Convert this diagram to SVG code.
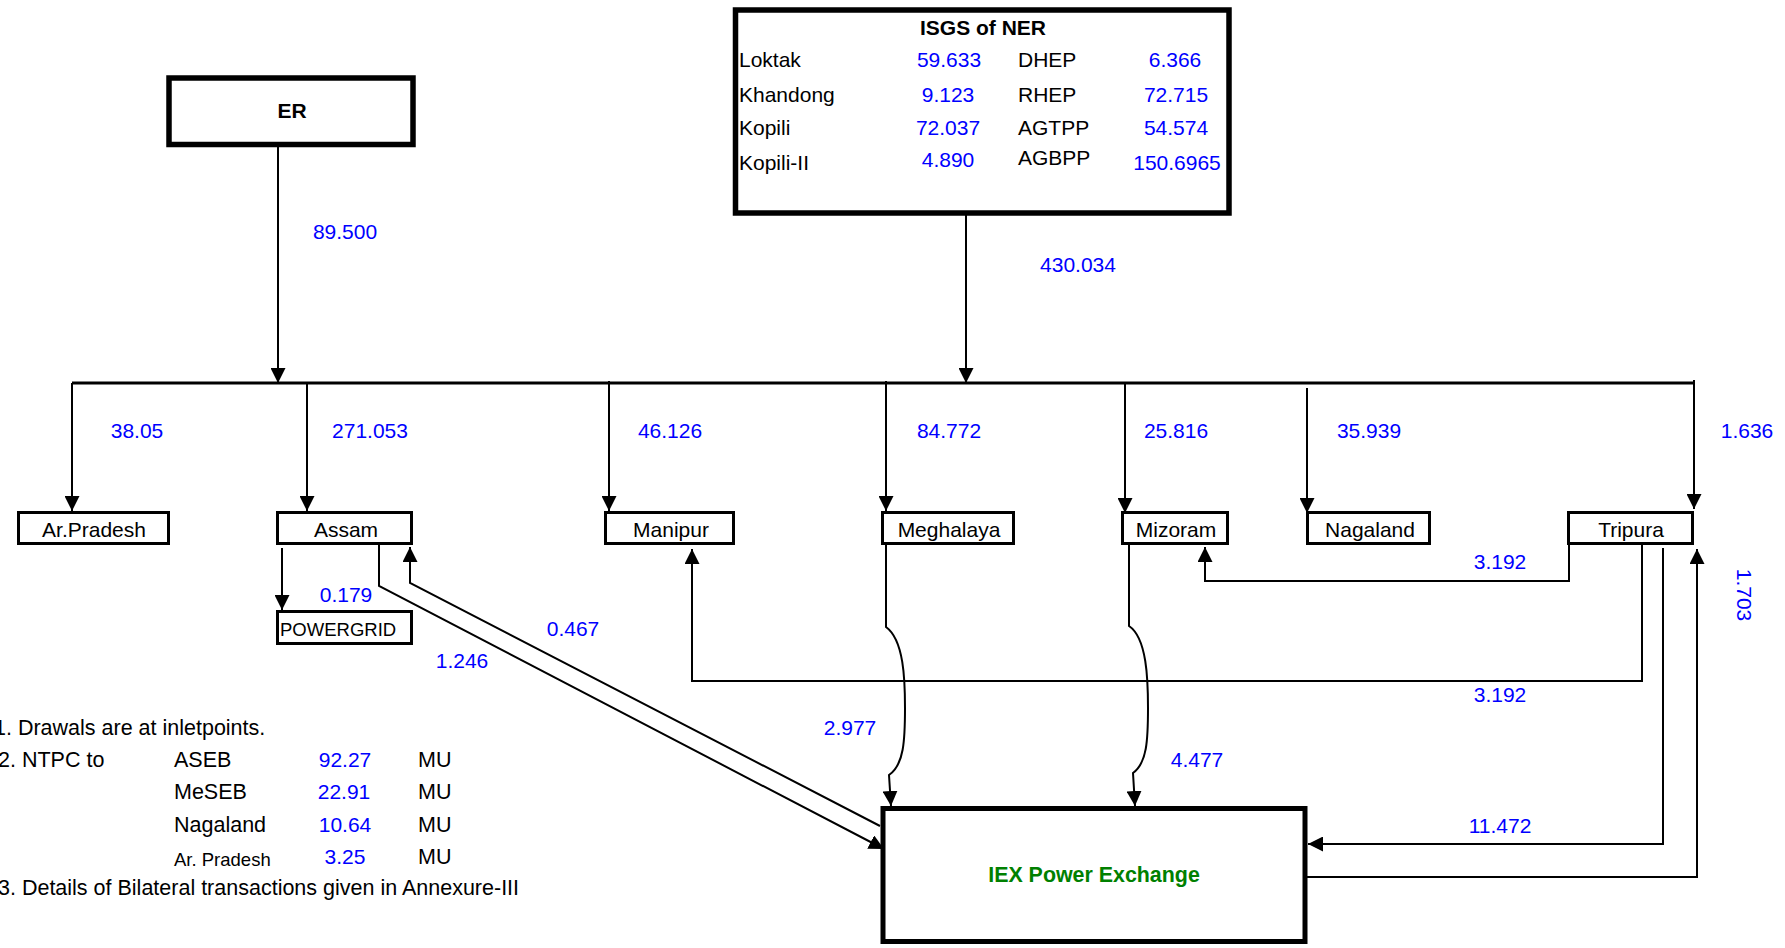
<svg xmlns="http://www.w3.org/2000/svg" width="1785" height="948" viewBox="0 0 1785 948">
<defs>
<style>
text{font-family:"Liberation Sans",Arial,sans-serif;font-size:21px;fill:#000}
.v{fill:#0000ff;text-anchor:middle}
.c{text-anchor:middle}
.b{font-weight:bold}
.n{font-size:21.5px}
.box{fill:#fff;stroke:#000;stroke-width:3}
.big{fill:#fff;stroke:#000;stroke-width:5.5}
.ar{fill:none;stroke:#000;stroke-width:2;marker-end:url(#ah)}
.bus{fill:none;stroke:#000;stroke-width:3}
</style>
<marker id="ah" markerUnits="userSpaceOnUse" markerWidth="15" markerHeight="15" viewBox="0 0 15 15" refX="15" refY="7.5" orient="auto">
<path d="M0,0 L15,7.5 L0,15 z" fill="#000"/>
</marker>
</defs>
<rect width="1785" height="948" fill="#fff"/>

<g id="connectors">
<path class="ar" d="M278,147 V383"/>
<path class="ar" d="M966,213 V383"/>
<path class="bus" d="M72,383 H1694"/>
<path class="ar" d="M72,383 V511"/>
<path class="ar" d="M307,383 V511"/>
<path class="ar" d="M609,381 V511"/>
<path class="ar" d="M886,381 V511"/>
<path class="ar" d="M1125,383 V513"/>
<path class="ar" d="M1307,388 V513"/>
<path class="ar" d="M1694,380 V509"/>
<path class="ar" d="M282,548 V610"/>
<path class="ar" d="M379,545 V586 L884,849"/>
<path class="ar" d="M880,826 L410,583 V547"/>
<path class="ar" d="M886,545 V627 C904,640 905,680 905,708 C905,740 904,765 889,775 L891,806"/>
<path class="ar" d="M1129,545 V626 C1147,638 1148,680 1148,708 C1148,740 1147,763 1133,773 L1135,806"/>
<path class="ar" d="M1569,545 V581 H1205 V547"/>
<path class="ar" d="M1642,545 V681 H692 V549"/>
<path class="ar" d="M1663,548 V844 H1308"/>
<path class="ar" d="M1306,877 H1697 V549"/>
</g>

<g id="er">
<rect class="big" x="169" y="78" width="244" height="66.5"/>
<text class="c b" x="292" y="118">ER</text>
</g>

<g id="isgs">
<rect class="big" x="735.5" y="10" width="493.5" height="203"/>
<text class="c b" x="983" y="35">ISGS of NER</text>
<text x="739" y="67">Loktak</text>
<text x="739" y="102">Khandong</text>
<text x="739" y="135">Kopili</text>
<text x="739" y="170">Kopili-II</text>
<text class="v" x="949" y="67">59.633</text>
<text class="v" x="948" y="102">9.123</text>
<text class="v" x="948" y="135">72.037</text>
<text class="v" x="948" y="167">4.890</text>
<text x="1018" y="67">DHEP</text>
<text x="1018" y="102">RHEP</text>
<text x="1018" y="135">AGTPP</text>
<text x="1018" y="165">AGBPP</text>
<text class="v" x="1175" y="67">6.366</text>
<text class="v" x="1176" y="102">72.715</text>
<text class="v" x="1176" y="135">54.574</text>
<text class="v" x="1177" y="170">150.6965</text>
</g>

<g id="arpradesh">
<rect class="box" x="18.5" y="512.5" width="150" height="31"/>
<text class="c" x="94" y="537">Ar.Pradesh</text>
</g>
<g id="assam">
<rect class="box" x="277.5" y="512.5" width="134" height="31"/>
<text class="c" x="346" y="537">Assam</text>
</g>
<g id="powergrid">
<rect class="box" x="277.5" y="611.5" width="134" height="32"/>
<text x="280" y="636" style="font-size:18.5px">POWERGRID</text>
</g>
<g id="manipur">
<rect class="box" x="605.5" y="512.5" width="128" height="31"/>
<text class="c" x="671" y="537">Manipur</text>
</g>
<g id="meghalaya">
<rect class="box" x="882.5" y="512.5" width="131" height="31"/>
<text class="c" x="949" y="537">Meghalaya</text>
</g>
<g id="mizoram">
<rect class="box" x="1122.5" y="512.5" width="105" height="31"/>
<text class="c" x="1176" y="537">Mizoram</text>
</g>
<g id="nagaland">
<rect class="box" x="1307.5" y="512.5" width="122" height="31"/>
<text class="c" x="1370" y="537">Nagaland</text>
</g>
<g id="tripura">
<rect class="box" x="1568.5" y="512.5" width="124" height="31"/>
<text class="c" x="1631" y="537">Tripura</text>
</g>

<g id="iex">
<rect x="883" y="808.5" width="422" height="133" fill="#fff" stroke="#000" stroke-width="5"/>
<text class="c b" x="1094" y="882" style="fill:#008000;font-size:21.4px">IEX Power Exchange</text>
</g>

<g id="labels">
<text class="v" x="345" y="239">89.500</text>
<text class="v" x="1078" y="272">430.034</text>
<text class="v" x="137" y="438">38.05</text>
<text class="v" x="370" y="438">271.053</text>
<text class="v" x="670" y="438">46.126</text>
<text class="v" x="949" y="438">84.772</text>
<text class="v" x="1176" y="438">25.816</text>
<text class="v" x="1369" y="438">35.939</text>
<text class="v" x="1747" y="438">1.636</text>
<text class="v" x="346" y="602">0.179</text>
<text class="v" x="573" y="636">0.467</text>
<text class="v" x="462" y="668">1.246</text>
<text class="v" x="1500" y="569">3.192</text>
<text class="v" x="1500" y="702">3.192</text>
<text class="v" x="850" y="735">2.977</text>
<text class="v" x="1197" y="767">4.477</text>
<text class="v" x="1500" y="833">11.472</text>
<text class="v" x="1737" y="595" transform="rotate(90 1737 595)">1.703</text>
</g>

<g id="notes">
<text class="n" x="-6" y="735">1. Drawals are at inletpoints.</text>
<text class="n" x="-2" y="767">2. NTPC to</text>
<text class="n" x="174" y="767">ASEB</text>
<text class="n" x="174" y="799">MeSEB</text>
<text class="n" x="174" y="832">Nagaland</text>
<text x="174" y="866" style="font-size:18.5px">Ar. Pradesh</text>
<text class="v" x="345" y="767">92.27</text>
<text class="v" x="344" y="799">22.91</text>
<text class="v" x="345" y="832">10.64</text>
<text class="v" x="345" y="864">3.25</text>
<text class="n" x="418" y="767">MU</text>
<text class="n" x="418" y="799">MU</text>
<text class="n" x="418" y="832">MU</text>
<text class="n" x="418" y="864">MU</text>
<text class="n" x="-2" y="895">3. Details of Bilateral transactions given in Annexure-III</text>
</g>
</svg>
